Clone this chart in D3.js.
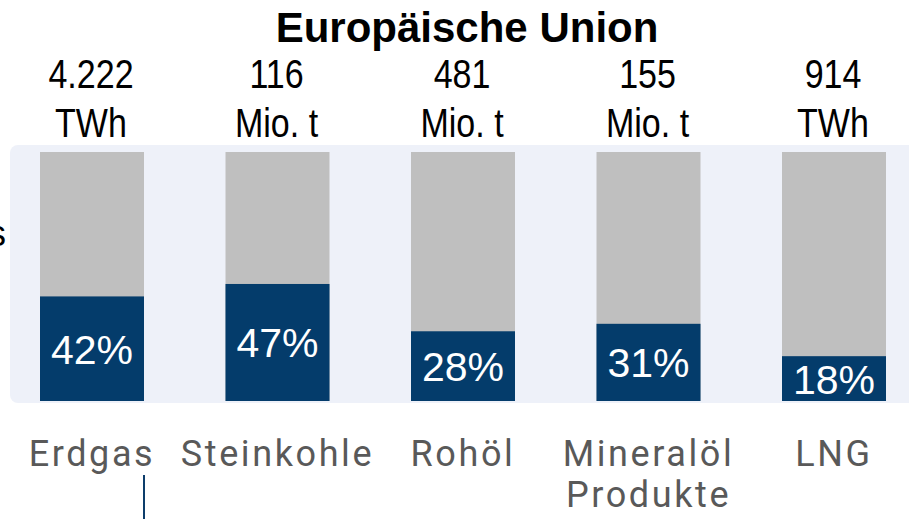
<!DOCTYPE html>
<html>
<head>
<meta charset="utf-8">
<script src="https://cdn.jsdelivr.net/npm/d3@7"></script>
<style>
  html, body { margin: 0; padding: 0; background: #ffffff; overflow: hidden; }
</style>
</head>
<body>
<div id="chart"></div>
<script>
// Chart size
const width = 909;
const height = 519;

// Data
const categories = ["Erdgas", "Steinkohle", "Rohöl", "Mineralöl|Produkte", "LNG"];
const shares = [42, 47, 28, 31, 18];
const volumes = ["4.222", "116", "481", "155", "914"];
const units = ["TWh", "Mio. t", "Mio. t", "Mio. t", "TWh"];

const svg = d3.select("#chart")
    .append("svg")
    .attr("width", width)
    .attr("height", height);

// Scales
const x = d3.scalePoint()
    .domain(categories)
    .range([92, 834]);

const y = d3.scaleLinear()
    .domain([0, 100])
    .range([401, 152]);

const barWidth = 104;

// Light panel behind the bars
svg.append("rect")
    .attr("x", 10)
    .attr("y", 145)
    .attr("width", 920)
    .attr("height", 258)
    .attr("rx", 8)
    .attr("fill", "#eef1f9");

// Clipped label on the far left (cut off in the original too)
svg.append("text")
    .attr("x", 6)
    .attr("y", 246)
    .attr("text-anchor", "end")
    .attr("font-family", "Liberation Sans, Arial, sans-serif")
    .attr("font-size", 36)
    .attr("fill", "#000")
    .text("Importanteil Russlands");

// Title
svg.append("text")
    .attr("x", 467)
    .attr("y", 42)
    .attr("text-anchor", "middle")
    .attr("font-family", "Liberation Sans, Arial, sans-serif")
    .attr("font-weight", "bold")
    .attr("font-size", 42)
    .attr("fill", "#000")
    .text("Europäische Union");

const cols = svg.append("g")
    .selectAll("g")
    .data(categories.map((c, i) => ({ cat: c, share: shares[i], vol: volumes[i], unit: units[i] })))
    .enter().append("g");

// Full (100%) bars in grey
cols.append("rect")
    .attr("x", d => x(d.cat) - barWidth / 2)
    .attr("y", y(100))
    .attr("width", barWidth)
    .attr("height", y(0) - y(100))
    .attr("fill", "#bfbfbf");

// Share bars in dark blue
cols.append("rect")
    .attr("x", d => x(d.cat) - barWidth / 2)
    .attr("y", d => y(d.share))
    .attr("width", barWidth)
    .attr("height", d => y(0) - y(d.share))
    .attr("fill", "#043c6b");

// Percent labels, centred in the blue part
cols.append("text")
    .attr("x", d => x(d.cat))
    .attr("y", d => (y(d.share) + y(0)) / 2 + 15)
    .attr("text-anchor", "middle")
    .attr("font-family", "Liberation Sans, Arial, sans-serif")
    .attr("font-size", 41)
    .attr("fill", "#ffffff")
    .text(d => d.share + "%");

// Volumes and units above the bars (condensed)
const headLabels = cols.append("g")
    .attr("transform", d => `translate(${x(d.cat) - 1},0) scale(0.83,1)`);

headLabels.append("text")
    .attr("y", 88)
    .attr("text-anchor", "middle")
    .attr("font-family", "Liberation Sans, Arial, sans-serif")
    .attr("font-size", 41)
    .attr("fill", "#000")
    .text(d => d.vol);

headLabels.append("text")
    .attr("y", 137)
    .attr("text-anchor", "middle")
    .attr("font-family", "Liberation Sans, Arial, sans-serif")
    .attr("font-size", 41)
    .attr("fill", "#000")
    .text(d => d.unit);

// Category labels under the panel
cols.append("text")
    .attr("y", 466)
    .attr("text-anchor", "middle")
    .attr("font-family", "Roboto, sans-serif")
    .attr("font-size", 36)
    .attr("letter-spacing", 2.6)
    .attr("fill", "#595959")
    .selectAll("tspan")
    .data(d => d.cat.split("|").map((t, i) => ({ t: t, i: i, cx: x(d.cat) })))
    .enter().append("tspan")
    .attr("x", d => d.cx)
    .attr("dy", d => d.i === 0 ? 0 : 41)
    .text(d => d.t);

// Small marker line below the first category
svg.append("line")
    .attr("x1", x("Erdgas") + 52)
    .attr("x2", x("Erdgas") + 52)
    .attr("y1", 475)
    .attr("y2", height)
    .attr("stroke", "#0d3d6b")
    .attr("stroke-width", 2);
</script>
</body>
</html>
